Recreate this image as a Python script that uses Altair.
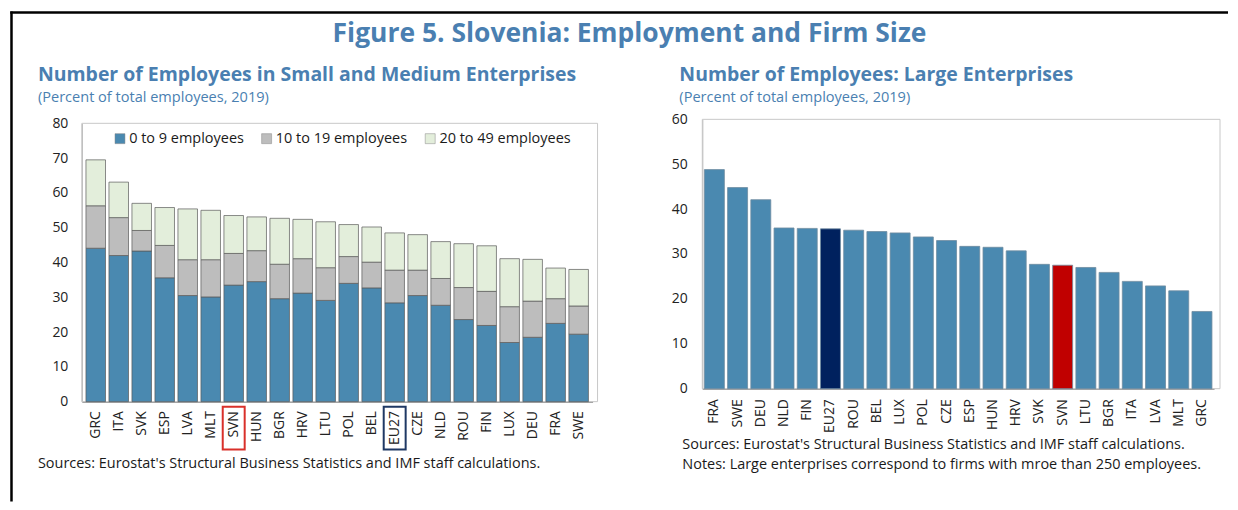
import altair as alt
import pandas as pd

# ---------------- data ----------------
countries_sme = ["GRC", "ITA", "SVK", "ESP", "LVA", "MLT", "SVN", "HUN", "BGR", "HRV", "LTU",
                 "POL", "BEL", "EU27", "CZE", "NLD", "ROU", "FIN", "LUX", "DEU", "FRA", "SWE"]
emp_0_9 = [44.1, 42.0, 43.3, 35.6, 30.5, 30.1, 33.5, 34.5, 29.6, 31.2, 29.1,
           34.0, 32.7, 28.4, 30.5, 27.7, 23.6, 21.9, 17.0, 18.5, 22.5, 19.4]
emp_10_19 = [12.2, 10.9, 5.9, 9.3, 10.3, 10.7, 9.1, 8.9, 9.9, 9.9, 9.4,
             7.7, 7.4, 9.4, 7.3, 7.7, 9.2, 9.8, 10.3, 10.4, 7.1, 8.1]
emp_20_49 = [13.2, 10.2, 7.8, 10.9, 14.6, 14.2, 10.9, 9.7, 13.2, 11.3, 13.2,
             9.2, 10.1, 10.7, 10.2, 10.6, 12.6, 13.1, 13.8, 12.0, 8.8, 10.5]
series_names = ["0 to 9 employees", "10 to 19 employees", "20 to 49 employees"]
series_colors = ["#4a89b0", "#bdbdbd", "#e3eedb"]

countries_large = ["FRA", "SWE", "DEU", "NLD", "FIN", "EU27", "ROU", "BEL", "LUX", "POL", "CZE",
                   "ESP", "HUN", "HRV", "SVK", "SVN", "LTU", "BGR", "ITA", "LVA", "MLT", "GRC"]
large_share = [48.8, 44.8, 42.1, 35.8, 35.7, 35.6, 35.3, 35.0, 34.7, 33.8, 33.0,
               31.7, 31.5, 30.7, 27.7, 27.5, 27.0, 25.9, 23.9, 22.9, 21.8, 17.2]

highlight_countries = ["SVN", "EU27"]
highlight_colors = ["#d9302a", "#1f3864"]

left_ticks = [0, 10, 20, 30, 40, 50, 60, 70, 80]
right_ticks = [0, 10, 20, 30, 40, 50, 60]

# ---------------- tables ----------------
rows = []
for i, c in enumerate(countries_sme):
    for k, vals in enumerate([emp_0_9, emp_10_19, emp_20_49]):
        rows.append({"country": c, "series": series_names[k], "value": vals[i], "order": k})
sme_df = pd.DataFrame(rows)

large_df = pd.DataFrame({
    "country": countries_large,
    "value": large_share,
    "grp": ["EU27" if c == "EU27" else ("SVN" if c == "SVN" else "other") for c in countries_large],
})
hl_df = pd.DataFrame({"country": highlight_countries, "col": highlight_colors})

FONT = "Open Sans"
BLUE_T = "#4a7fb1"
W1, H1 = 517, 283
W2, H2 = 519, 270

blank = alt.Data(values=[{}])


def txt(t, x, y, size, color="#1a1a1a", weight="normal", align="left"):
    return alt.Chart(blank).mark_text(
        font=FONT, fontSize=size, fontWeight=weight, color=color, align=align,
        baseline="alphabetic"
    ).encode(x=alt.value(x), y=alt.value(y), text=alt.value(t))


# ---------------- left panel ----------------
x_left = alt.X(
    "country:N", sort=None, title=None,
    scale=alt.Scale(domain=countries_sme, range=[0, 512], paddingInner=0.15, paddingOuter=0.18),
    axis=alt.Axis(labelAngle=-90, labelFontSize=14, labelPadding=9, ticks=False,
                  domainColor="#a0a0a0", domainWidth=1.5, labelColor="#222", labelFont=FONT),
)
y_left = alt.Y(
    "value:Q", stack="zero", title=None,
    scale=alt.Scale(domain=[0, 80], range=[H1, 4], nice=False),
    axis=alt.Axis(values=left_ticks, labelFontSize=14, labelPadding=14, ticks=False, grid=False,
                  domainColor="#b0b0b0", labelColor="#222", labelFont=FONT),
)

frame_left = alt.Chart(blank).mark_rect(fill="transparent", stroke="#c8c8c8", strokeWidth=1).encode(
    x=alt.value(0), x2=alt.value(W1), y=alt.value(4), y2=alt.value(H1))

bars_left = alt.Chart(sme_df).mark_bar(stroke="#5a5a5a", strokeWidth=0.7).encode(
    x=x_left,
    y=y_left,
    color=alt.Color("series:N", scale=alt.Scale(domain=series_names, range=series_colors),
                    legend=alt.Legend(orient="none", legendX=31, legendY=12, direction="horizontal",
                                      title=None, labelFontSize=14.5, labelFont=FONT, labelColor="#1a1a1a",
                                      symbolType="square", symbolSize=100, symbolStrokeWidth=0.5,
                                      symbolStrokeColor="#888", columnPadding=15, labelOffset=2,
                                      padding=0)),
    order=alt.Order("order:Q"),
)

boxes = alt.Chart(hl_df).mark_bar(size=22, fill="transparent", strokeWidth=2).encode(
    x=x_left,
    y=alt.value(288), y2=alt.value(331),
    stroke=alt.Color("col:N", scale=None),
)

frame_v = alt.Chart(blank).mark_rule(color="black", strokeWidth=2.5).encode(
    x=alt.value(-70.5), y=alt.value(-108), y2=alt.value(383))
frame_h = alt.Chart(blank).mark_rule(color="black", strokeWidth=2.5).encode(
    x=alt.value(-71.75), x2=alt.value(1149), y=alt.value(-107))

left = alt.layer(
    frame_left, bars_left, boxes, frame_v, frame_h,
    txt("Figure 5. Slovenia: Employment and Firm Size", 549, -78, 26.5, BLUE_T, "bold", "center"),
    txt("Number of Employees in Small and Medium Enterprises", -44, -38, 19.5, BLUE_T, "bold"),
    txt("(Percent of total employees, 2019)", -44, -17, 14.6, BLUE_T),
    txt("Sources: Eurostat's Structural Business Statistics and IMF staff calculations.", -44, 350, 14.5),
).properties(width=W1, height=H1)

# ---------------- right panel ----------------
x_right = alt.X(
    "country:N", sort=None, title=None,
    scale=alt.Scale(domain=countries_large, range=[0, 513], paddingInner=0.14, paddingOuter=0.09),
    axis=alt.Axis(labelAngle=-90, labelFontSize=14, labelPadding=10, ticks=False,
                  domainColor="#a0a0a0", domainWidth=1.5, labelColor="#222", labelFont=FONT),
)
y_right = alt.Y(
    "value:Q", title=None,
    scale=alt.Scale(domain=[0, 60], nice=False),
    axis=alt.Axis(values=right_ticks, labelFontSize=14, labelPadding=15, ticks=False, grid=False,
                  domainColor="#b0b0b0", labelColor="#222", labelFont=FONT),
)

frame_right = alt.Chart(blank).mark_rect(fill="transparent", stroke="#c8c8c8", strokeWidth=1).encode(
    x=alt.value(0), x2=alt.value(W2), y=alt.value(0), y2=alt.value(H2))

bars_right = alt.Chart(large_df).mark_bar(stroke="#6f8ba0", strokeWidth=0.8).encode(
    x=x_right,
    y=y_right,
    color=alt.Color("grp:N", scale=alt.Scale(domain=["other", "EU27", "SVN"],
                                             range=["#4a89b0", "#00215e", "#c00000"]), legend=None),
)

right = alt.layer(
    frame_right, bars_right,
    txt("Number of Employees: Large Enterprises", -23, -38, 19.5, BLUE_T, "bold"),
    txt("(Percent of total employees, 2019)", -23, -17, 14.6, BLUE_T),
    txt("Sources: Eurostat's Structural Business Statistics and IMF staff calculations.", -20, 330, 14.5),
    txt("Notes: Large enterprises correspond to firms with mroe than 250 employees.", -20, 351, 14.5),
).properties(width=W2, height=H2)

chart = alt.hconcat(left, right, spacing=105, bounds="flush").resolve_scale(
    x="independent", y="independent", color="independent", stroke="independent"
).properties(
    padding={"left": 1, "top": 1, "right": 0, "bottom": 0},
    background="white",
).configure_view(stroke=None)

chart.save("out.html", embed_options={"renderer": "svg", "actions": False})
